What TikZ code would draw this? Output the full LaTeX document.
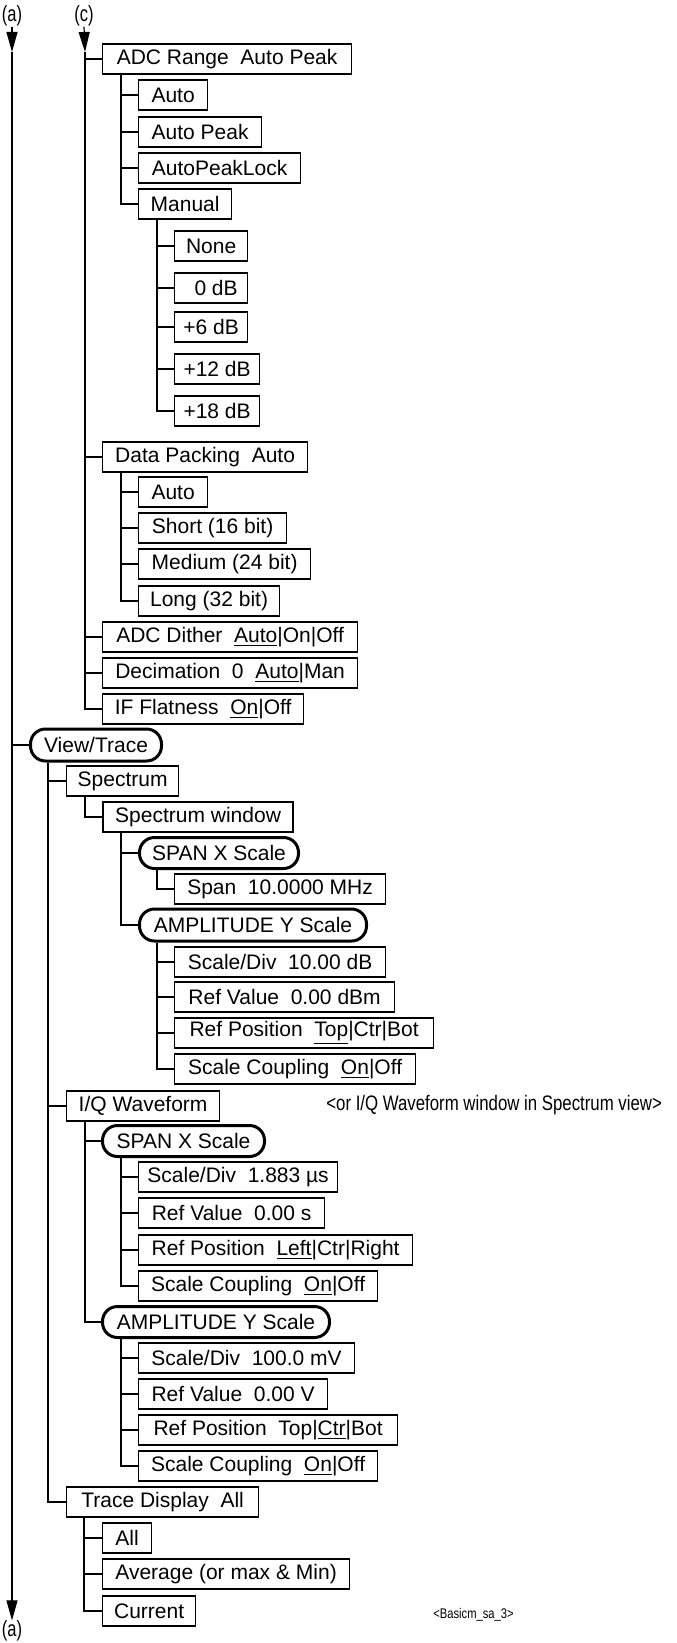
\documentclass[tikz,border=0pt]{standalone}
\usepackage{fontspec}
\setmainfont{Liberation Sans}
\usetikzlibrary{arrows.meta}
\newcommand\boxfont{\fontsize{10.5pt}{12pt}\selectfont}
\newcommand\labfont{\fontsize{11pt}{13pt}\selectfont}
\tikzset{
  x=0.5pt, y=-0.5pt,
  bw/.style={minimum width={#1*0.5pt}},
  box/.style={draw, line width=0.6pt, anchor=west, minimum height=15pt, inner xsep=0pt, inner ysep=0pt, font=\boxfont},
  rbox/.style={box, line width=1.5pt, rounded corners=7.5pt, minimum height=15.5pt},
  wbox/.style={box, line width=1.1pt},
  conn/.style={line width=0.6pt},
  lab/.style={inner sep=0pt, font=\labfont},
  tip/.style={-{Triangle[length=10pt,width=5.5pt]}},
}
\begin{document}
\begin{tikzpicture}
\useasboundingbox (0,0) rectangle (676,1643);

% labels and main lines
\node[lab] (atop) at (12,16) {\scalebox{0.75}[1]{(a)}};
\node[lab] (ctop) at (84,16) {\scalebox{0.75}[1]{(c)}};
\node[lab] (abot) at (12,1631) {\scalebox{0.75}[1]{(a)}};
\coordinate (atip) at (12,52);
\coordinate (ctip) at (85,52);
\draw[conn, tip] (atop.south) -- (atip);
\draw[conn, tip] (atip) -- (abot.north);
\draw[conn, tip] (ctop.south) -- (ctip);

% (c) branch
\node[box,bw=249] (adc) at (102,59) {ADC Range~~Auto Peak};
\node[box,bw=69]  (a1) at (138,95) {Auto};
\node[box,bw=123] (a2) at (138,132) {Auto Peak};
\node[box,bw=162] (a3) at (138,168) {AutoPeakLock};
\node[box,bw=93]  (a4) at (138,204) {Manual};
\node[box,bw=73]  (m1) at (174,246) {None};
\node[box,bw=73]  (m2) at (174,288) {\hspace{5pt}0 dB};
\node[box,bw=73]  (m3) at (174,327) {+6 dB};
\node[box,bw=85]  (m4) at (174,369) {+12 dB};
\node[box,bw=85]  (m5) at (174,411) {+18 dB};
\node[box,bw=205] (dp) at (102,457) {Data Packing~~Auto};
\node[box,bw=69]  (d1) at (138,492) {Auto};
\node[box,bw=148] (d2) at (138,528) {Short (16 bit)};
\node[box,bw=172] (d3) at (138,564) {Medium (24 bit)};
\node[box,bw=141] (d4) at (138,601) {Long (32 bit)};
\node[box,bw=255] (dith) at (102,637) {ADC Dither~~\underline{Auto}|On|Off};
\node[box,bw=255] (deci) at (102,673) {Decimation~~0~~\underline{Auto}|Man};
\node[box,bw=201] (iff) at (102,709) {IF Flatness~~\underline{On}|Off};

\foreach \n in {adc,dp,dith,deci,iff} \draw[conn] (ctip) |- (\n.west);
\foreach \n in {a1,a2,a3,a4} \draw[conn] ([xshift=9.5pt]adc.south west) |- (\n.west);
\foreach \n in {m1,m2,m3,m4,m5} \draw[conn] ([xshift=9.5pt]a4.south west) |- (\n.west);
\foreach \n in {d1,d2,d3,d4} \draw[conn] ([xshift=9.5pt]dp.south west) |- (\n.west);

% (a) branch
\node[rbox,bw=131,minimum height=16pt] (vt) at (29,745) {View/Trace};
\node[box,bw=112] (spec) at (66,781) {Spectrum};
\node[wbox,bw=190] (sw) at (102,817) {Spectrum window};
\node[rbox,bw=159] (spx1) at (138,853) {SPAN X Scale};
\node[box,bw=211] (span) at (174,889) {Span~~10.0000 MHz};
\node[rbox,bw=227,minimum height=16pt] (amp1) at (138,925) {AMPLITUDE Y Scale};
\node[box,bw=211] (s1) at (174,962) {Scale/Div~~10.00 dB};
\node[box,bw=220] (s2) at (174,997) {Ref Value~~0.00 dBm};
\node[box,bw=259] (s3) at (174,1033) {Ref Position~~\underline{Top}|Ctr|Bot};
\node[box,bw=241] (s4) at (174,1069) {Scale Coupling~~\underline{On}|Off};
\node[box,bw=153] (iq) at (66,1106) {I/Q Waveform};
\node[anchor=west, inner sep=0pt, font=\boxfont] (note) at (326,1105) {\scalebox{0.8}[1]{<or I/Q Waveform window in Spectrum view>}};
\node[rbox,bw=162] (spx2) at (101,1141) {SPAN X Scale};
\node[box,bw=199] (t1) at (138,1177) {Scale/Div~~1.883 µs};
\node[box,bw=186] (t2) at (138,1213) {Ref Value~~0.00 s};
\node[box,bw=274] (t3) at (138,1250) {Ref Position~~\underline{Left}|Ctr|Right};
\node[box,bw=239] (t4) at (138,1286) {Scale Coupling~~\underline{On}|Off};
\node[rbox,bw=227] (amp2) at (101,1322) {AMPLITUDE Y Scale};
\node[box,bw=216] (u1) at (138,1358) {Scale/Div~~100.0 mV};
\node[box,bw=189] (u2) at (138,1394) {Ref Value~~0.00 V};
\node[box,bw=259] (u3) at (138,1430) {Ref Position~~Top|\underline{Ctr}|Bot};
\node[box,bw=239] (u4) at (138,1466) {Scale Coupling~~\underline{On}|Off};
\node[box,bw=192] (td) at (66,1502) {Trace Display~~All};
\node[box,bw=49]  (r1) at (102,1538) {All};
\node[box,bw=247] (r2) at (102,1574) {Average (or max \& Min)};
\node[box,bw=93]  (r3) at (102,1611) {Current};
\node[anchor=west, inner sep=0pt, font=\fontsize{7pt}{8pt}\selectfont] (ref) at (433,1615) {\scalebox{0.8}[1]{<Basicm\_sa\_3>}};

\draw[conn] (atip) |- (vt.west);
\foreach \n in {spec,iq,td} \draw[conn] ([xshift=9.5pt]vt.south west) |- (\n.west);
\draw[conn] ([xshift=9.5pt]spec.south west) |- (sw.west);
\foreach \n in {spx1,amp1} \draw[conn] ([xshift=9.5pt]sw.south west) |- (\n.west);
\draw[conn] ([xshift=9.5pt]spx1.south west) |- (span.west);
\foreach \n in {s1,s2,s3,s4} \draw[conn] ([xshift=9.5pt]amp1.south west) |- (\n.west);
\foreach \n in {spx2,amp2} \draw[conn] ([xshift=9.5pt]iq.south west) |- (\n.west);
\foreach \n in {t1,t2,t3,t4} \draw[conn] ([xshift=10pt]spx2.south west) |- (\n.west);
\foreach \n in {u1,u2,u3,u4} \draw[conn] ([xshift=10pt]amp2.south west) |- (\n.west);
\foreach \n in {r1,r2,r3} \draw[conn] ([xshift=9pt]td.south west) |- (\n.west);
\end{tikzpicture}
\end{document}
